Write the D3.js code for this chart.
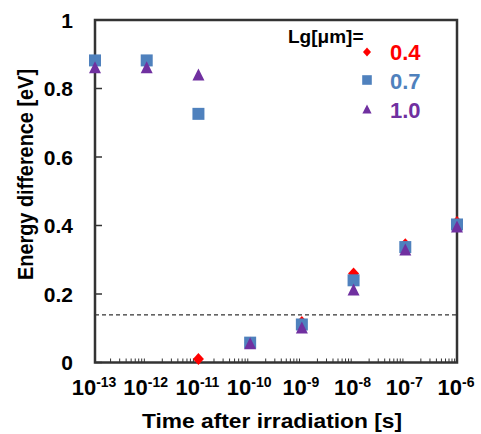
<!DOCTYPE html>
<html><head><meta charset="utf-8">
<script src="https://cdn.jsdelivr.net/npm/d3@7"></script>
<style>body{margin:0;background:#fff} text{font-family:Arial,"Liberation Sans",sans-serif;font-weight:bold;fill:#000}</style>
</head><body><svg id="c" width="481" height="434"></svg>
<script>
const exponents = [-13,-12,-11,-10,-9,-8,-7,-6];
const times = exponents.map(e => Math.pow(10, e));
const lg04 = [0.88, 0.88, 0.01, 0.058, 0.118, 0.26, 0.345, 0.41];
const lg07 = [0.882, 0.882, 0.726, 0.058, 0.111, 0.24, 0.337, 0.403];
const lg10 = [0.862, 0.862, 0.841, 0.056, 0.102, 0.213, 0.33, 0.397];
const yTicks = [0, 0.2, 0.4, 0.6, 0.8, 1];
const yTickLabels = ["0", "0.2", "0.4", "0.6", "0.8", "1"];
const threshold = 0.139;
const legendLabels = ["0.4", "0.7", "1.0"];
const legendTitle = "Lg[\u03bcm]=";
const colors = ["#FF0000", "#4F81BD", "#7030A0"];

const svg = d3.select("#c");
const L = 95, R = 457, T = 20, B = 362.5;
const x = d3.scaleLog().domain([1e-13, 1e-6]).range([L, R]);
const y = d3.scaleLinear().domain([0, 1]).range([B, T]);

// minor ticks on bottom axis (inside)
const minor = [];
for (let e = -13; e < -6; e++) for (let k = 2; k <= 9; k++) minor.push(k * Math.pow(10, e));
svg.append("g").selectAll("line").data(minor).join("line")
  .attr("x1", d => x(d)).attr("x2", d => x(d))
  .attr("y1", B).attr("y2", B - 4)
  .attr("stroke", "#333").attr("stroke-width", 1);

// y ticks inside
svg.append("g").selectAll("line").data(yTicks).join("line")
  .attr("x1", L).attr("x2", L + 7)
  .attr("y1", d => y(d)).attr("y2", d => y(d))
  .attr("stroke", "#333").attr("stroke-width", 1.5);

// dashed threshold
svg.append("line").attr("x1", L).attr("x2", R)
  .attr("y1", y(threshold)).attr("y2", y(threshold))
  .attr("stroke", "#000").attr("stroke-width", 1).attr("stroke-dasharray", "4,3");

// frame
svg.append("rect").attr("x", L).attr("y", T).attr("width", R - L).attr("height", B - T)
  .attr("fill", "none").attr("stroke", "#333").attr("stroke-width", 2.5);

// y tick labels
svg.append("g").selectAll("text").data(yTicks).join("text")
  .attr("x", 73).attr("y", d => y(d)).attr("dy", "0.36em")
  .attr("text-anchor", "end").style("font-size", "21px")
  .text((d, i) => yTickLabels[i]);

// x tick labels
const xl = svg.append("g").selectAll("text").data(times).join("text")
  .attr("x", d => x(d) - 1).attr("y", 395).attr("text-anchor", "middle");
xl.append("tspan").style("font-size", "22px").text("10");
xl.append("tspan").style("font-size", "14px").attr("dy", -8).text((d, i) => String(exponents[i]));

// axis titles
svg.append("text").attr("x", (L + R) / 2 - 4).attr("y", 428).attr("text-anchor", "middle")
  .style("font-size", "20px").attr("textLength", 260).attr("lengthAdjust", "spacingAndGlyphs")
  .text("Time after irradiation [s]");
svg.append("text").attr("transform", "translate(33,174.5) rotate(-90)").attr("text-anchor", "middle")
  .style("font-size", "22px").attr("textLength", 211).attr("lengthAdjust", "spacingAndGlyphs")
  .text("Energy difference [eV]");

// marker shapes
function diamond(cx, cy, w, h) { return `M${cx},${cy-h}L${cx+w},${cy}L${cx},${cy+h}L${cx-w},${cy}Z`; }
function square(cx, cy, s) { return `M${cx-s},${cy-s}h${2*s}v${2*s}h${-2*s}Z`; }
function triangle(cx, cy, w, h) { return `M${cx},${cy-h}L${cx+w},${cy+h}L${cx-w},${cy+h}Z`; }

const pts = times.map((t, i) => ({t, a: lg04[i], b: lg07[i], c: lg10[i]}));
svg.append("g").selectAll("path").data(pts).join("path")
  .attr("d", d => diamond(x(d.t), y(d.a), 5.5, 6)).attr("fill", colors[0]);
svg.append("g").selectAll("path").data(pts).join("path")
  .attr("d", d => square(x(d.t), y(d.b), 6)).attr("fill", colors[1]);
svg.append("g").selectAll("path").data(pts).join("path")
  .attr("d", d => triangle(x(d.t), y(d.c), 6, 6)).attr("fill", colors[2]);

// legend
svg.append("text").attr("x", 288).attr("y", 43).style("font-size", "19px").text(legendTitle);
const legY = [52, 80, 109], legBase = [60, 89, 118];
const lm = 367;
svg.append("path").attr("d", diamond(lm, legY[0], 4, 4.5)).attr("fill", colors[0]);
svg.append("path").attr("d", square(lm, legY[1], 4.8)).attr("fill", colors[1]);
svg.append("path").attr("d", triangle(lm, legY[2], 4.6, 4.5)).attr("fill", colors[2]);
svg.append("g").selectAll("text").data(legendLabels).join("text")
  .attr("x", 390).attr("y", (d, i) => legBase[i]).style("font-size", "22px")
  .style("fill", (d, i) => colors[i]).text(d => d);
</script></body></html>
